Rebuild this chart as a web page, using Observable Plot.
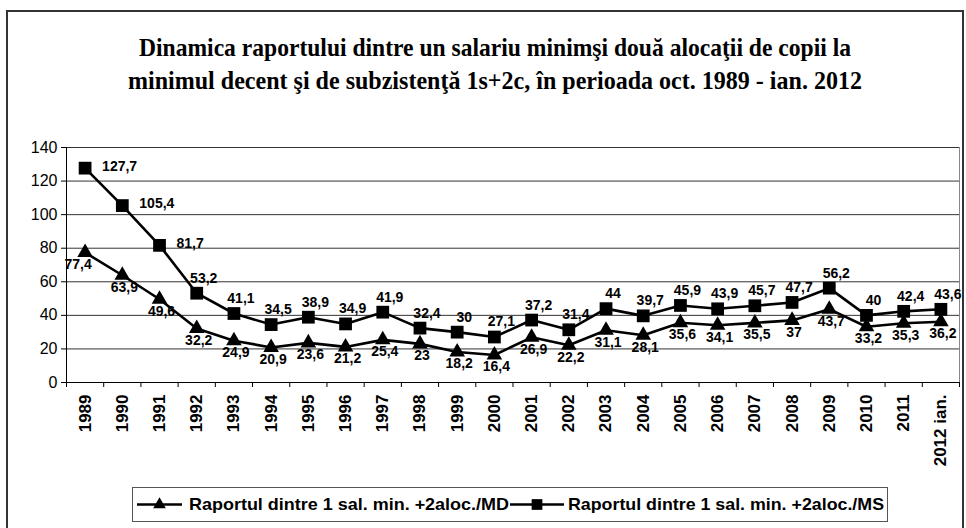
<!DOCTYPE html>
<html><head><meta charset="utf-8">
<script src="https://cdn.jsdelivr.net/npm/d3@7"></script>
<script src="https://cdn.jsdelivr.net/npm/@observablehq/plot@0.6"></script>
<style>
html,body{margin:0;padding:0;background:#fff;}
#wrap{position:relative;width:966px;height:528px;overflow:hidden;background:#fff;font-family:"Liberation Sans",Arial,sans-serif;}
#frame{position:absolute;left:6px;top:10px;width:958px;height:540px;border:2px solid #333;box-sizing:border-box;z-index:5;pointer-events:none;background:transparent;}
#title{position:absolute;left:0;top:0;}
#chart{position:absolute;left:0;top:130px;}
#legend{position:absolute;left:0;top:480px;}
</style></head><body>
<div id="wrap"><svg id="title" width="966" height="110"></svg><div id="chart"></div><svg id="legend" width="966" height="48"></svg><div id="frame"></div></div>
<script>
const categories = ["1989","1990","1991","1992","1993","1994","1995","1996","1997","1998","1999","2000","2001","2002","2003","2004","2005","2006","2007","2008","2009","2010","2011","2012 ian."];
const seriesMD = [77.4,63.9,49.6,32.2,24.9,20.9,23.6,21.2,25.4,23,18.2,16.4,26.9,22.2,31.1,28.1,35.6,34.1,35.5,37,43.7,33.2,35.3,36.2];
const seriesMS = [127.7,105.4,81.7,53.2,41.1,34.5,38.9,34.9,41.9,32.4,30,27.1,37.2,31.4,44,39.7,45.9,43.9,45.7,47.7,56.2,40,42.4,43.6];
const yTicks = [0,20,40,60,80,100,120,140];
const seriesNames = ["Raportul dintre 1 sal. min. +2aloc./MD","Raportul dintre 1 sal. min. +2aloc./MS"];
const titleLines = ["Dinamica raportului dintre un salariu minimşi două alocaţii de copii la","minimul decent şi de subzistenţă 1s+2c, în perioada oct. 1989 - ian. 2012"];

const idx = categories.map((_, i) => i);
const md = idx.map(i => ({i, v: seriesMD[i]}));
const ms = idx.map(i => ({i, v: seriesMS[i]}));
const fmt = v => String(v).replace(".", ",");
const boundaries = d3.range(0, categories.length + 1).map(k => k - 0.5);
const font = "'Liberation Sans', Arial, sans-serif";

const plot = Plot.plot({
  width: 966, height: 360,
  marginLeft: 66, marginRight: 7, marginTop: 17, marginBottom: 108,
  x: {domain: [-0.5, categories.length - 0.5]},
  y: {domain: [0, 140]},
  style: {fontFamily: font, color: "#000", background: "transparent", overflow: "visible"},
  marks: [
    Plot.gridY(yTicks, {stroke: "#333", strokeOpacity: 1}),
    Plot.ruleX([categories.length - 0.5], {y1: 0, y2: 140, stroke: "#888"}),
    Plot.ruleX([-0.5], {y1: 0, y2: 140, stroke: "#000"}),
    Plot.ruleY([0], {stroke: "#000"}),
    Plot.axisY(yTicks, {tickSize: 5, tickPadding: 4, fontSize: 16, label: null, tickFormat: d => d, stroke: "#000"}),
    Plot.axisX(boundaries, {tickSize: 5, tickFormat: () => "", label: null, stroke: "#000"}),
    Plot.axisX(idx, {tickSize: 0, tickPadding: 12, tickRotate: -90, tickFormat: i => categories[i], fontSize: 17, fontWeight: "bold", label: null}),
    Plot.line(md, {x: "i", y: "v", stroke: "#000", strokeWidth: 2.6}),
    Plot.line(ms, {x: "i", y: "v", stroke: "#000", strokeWidth: 2.6}),
    Plot.dot(md, {x: "i", y: "v", symbol: "triangle", r: 5.8, fill: "#000"}),
    Plot.dot(ms, {x: "i", y: "v", symbol: "square", r: 7.2, fill: "#000"}),
    Plot.text(ms, {filter: d => d.i < 3, x: "i", y: "v", text: d => fmt(d.v), textAnchor: "start", dx: 17, dy: -2, fontSize: 14, fontWeight: "bold", fill: "#000"}),
    Plot.text(ms, {filter: d => d.i >= 3, x: "i", y: "v", text: d => fmt(d.v), dx: 7, dy: -15, fontSize: 14, fontWeight: "bold", fill: "#000"}),
    Plot.text(md, {filter: d => d.i === 0, x: "i", y: "v", text: d => fmt(d.v), dx: -7, dy: 12, fontSize: 14, fontWeight: "bold", fill: "#000"}),
    Plot.text(md, {filter: d => d.i > 0, x: "i", y: "v", text: d => fmt(d.v), dx: 2, dy: 12, fontSize: 14, fontWeight: "bold", fill: "#000"})
  ]
});
document.getElementById("chart").appendChild(plot);

// Title
const tsvg = d3.select("#title");
const tLen = [712, 734], tY = [56, 89];
titleLines.forEach((t, k) => {
  tsvg.append("text").attr("x", 495).attr("y", tY[k]).attr("text-anchor", "middle")
    .style("font-family", "'Liberation Serif', 'Times New Roman', serif").attr("font-weight", "bold")
    .attr("font-size", 26).attr("textLength", tLen[k]).attr("lengthAdjust", "spacingAndGlyphs").text(t);
});

// Legend
const lsvg = d3.select("#legend");
lsvg.append("rect").attr("x", 132.5).attr("y", 7.5).attr("width", 755).attr("height", 34)
  .attr("fill", "#fff").attr("stroke", "#555");
const items = [
  {x0: 137, x1: 182, sym: d3.symbolTriangle, size: 70, tx: 189, tl: 320},
  {x0: 510, x1: 564, sym: d3.symbolSquare, size: 115, tx: 568, tl: 316}
];
items.forEach((it, k) => {
  lsvg.append("line").attr("x1", it.x0).attr("x2", it.x1).attr("y1", 24.5).attr("y2", 24.5).attr("stroke", "#000").attr("stroke-width", 2.6);
  lsvg.append("path").attr("d", d3.symbol(it.sym, it.size)()).attr("transform", `translate(${(it.x0 + it.x1) / 2},24.5)`).attr("fill", "#000");
  lsvg.append("text").attr("x", it.tx).attr("y", 30).style("font-family", font).attr("font-weight", "bold")
    .attr("font-size", 17).attr("textLength", it.tl).attr("lengthAdjust", "spacingAndGlyphs").text(seriesNames[k]);
});
</script>
</body></html>
